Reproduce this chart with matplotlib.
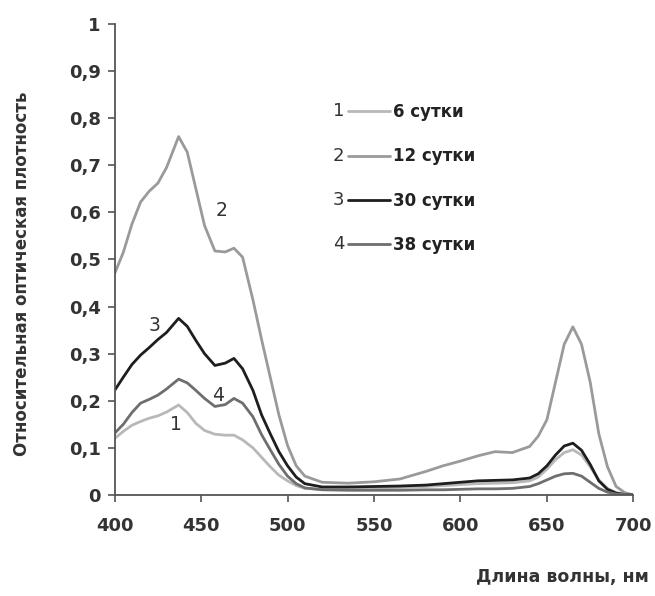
import matplotlib
matplotlib.use('Agg')
import matplotlib.pyplot as plt
from matplotlib.ticker import FuncFormatter

# wavelengths (nm) and relative optical density
wl = [400, 405, 410, 415, 420, 425, 430, 437, 442, 447, 452, 458, 464, 469, 474,
      480, 485, 490, 495, 500, 505, 510, 520, 535, 550, 565, 580, 590, 600, 610,
      620, 630, 640, 645, 650, 655, 660, 665, 670, 675, 680, 685, 690, 695, 700]

d6 = [0.120, 0.135, 0.148, 0.156, 0.163, 0.168, 0.176, 0.191, 0.175, 0.152, 0.137,
      0.129, 0.127, 0.127, 0.117, 0.100, 0.080, 0.060, 0.042, 0.030, 0.020, 0.014,
      0.012, 0.012, 0.014, 0.016, 0.018, 0.020, 0.022, 0.024, 0.025, 0.026, 0.030,
      0.038, 0.055, 0.075, 0.090, 0.096, 0.085, 0.060, 0.032, 0.014, 0.005, 0.002, 0.0]

d12 = [0.470, 0.515, 0.575, 0.622, 0.645, 0.662, 0.695, 0.761, 0.728, 0.650, 0.572,
       0.518, 0.516, 0.524, 0.505, 0.414, 0.330, 0.250, 0.170, 0.105, 0.062, 0.040,
       0.027, 0.025, 0.028, 0.034, 0.050, 0.062, 0.072, 0.083, 0.092, 0.090, 0.103,
       0.125, 0.160, 0.240, 0.320, 0.357, 0.320, 0.240, 0.130, 0.060, 0.018, 0.005, 0.0]

d30 = [0.222, 0.250, 0.277, 0.297, 0.313, 0.330, 0.345, 0.375, 0.358, 0.328, 0.300,
       0.275, 0.280, 0.290, 0.268, 0.222, 0.170, 0.130, 0.092, 0.062, 0.038, 0.024,
       0.017, 0.017, 0.018, 0.019, 0.021, 0.024, 0.027, 0.030, 0.031, 0.032, 0.036,
       0.045, 0.062, 0.085, 0.104, 0.110, 0.095, 0.065, 0.030, 0.012, 0.004, 0.001, 0.0]

d38 = [0.131, 0.150, 0.175, 0.195, 0.203, 0.212, 0.225, 0.246, 0.238, 0.222, 0.205,
       0.188, 0.192, 0.205, 0.195, 0.166, 0.128, 0.096, 0.065, 0.040, 0.024, 0.015,
       0.011, 0.010, 0.010, 0.010, 0.011, 0.011, 0.012, 0.013, 0.013, 0.014, 0.018,
       0.024, 0.032, 0.040, 0.045, 0.046, 0.040, 0.027, 0.014, 0.006, 0.002, 0.001, 0.0]

series = [d6, d12, d30, d38]
nums = ['1', '2', '3', '4']
labels = ['6 сутки', '12 сутки', '30 сутки', '38 сутки']
colors = ['#b8b8b8', '#9a9a9a', '#1e1e1e', '#6e6e6e']

fig = plt.figure(figsize=(6.55, 5.96), dpi=100)
ax = fig.add_axes([0.175, 0.1695, 0.792, 0.7902])

for y, lab, c in zip(series, labels, colors):
    ax.plot(wl, y, color=c, lw=2.0, label=lab, solid_capstyle='round')

ax.set_xlim(400, 700)
ax.set_ylim(0, 1)
ax.set_xticks(range(400, 701, 50))
ax.set_yticks([i / 10 for i in range(11)])
ax.yaxis.set_major_formatter(FuncFormatter(lambda v, p: ('%g' % round(v, 1)).replace('.', ',')))

for s in ['top', 'right']:
    ax.spines[s].set_visible(False)
for s in ['left', 'bottom']:
    ax.spines[s].set_color('#555555')
    ax.spines[s].set_linewidth(1.3)
ax.tick_params(axis='both', direction='out', length=5, width=1.2, color='#555555',
               labelsize=13, labelcolor='#333333')
ax.tick_params(axis='x', pad=11)
ax.tick_params(axis='y', pad=5)
for t in ax.get_xticklabels() + ax.get_yticklabels():
    t.set_fontweight('bold')

# curve numbers near the curves
ax.text(462, 0.605, '2', fontsize=13.5, color='#333333', ha='center', va='center')
ax.text(423, 0.36, '3', fontsize=13.5, color='#333333', ha='center', va='center')
ax.text(460, 0.212, '4', fontsize=13.5, color='#333333', ha='center', va='center')
ax.text(435.5, 0.149, '1', fontsize=13.5, color='#333333', ha='center', va='center')

leg = ax.legend(loc='upper left', bbox_to_anchor=(0.45, 0.832), frameon=False,
                borderpad=0, borderaxespad=0, handlelength=2.5, handletextpad=0.2,
                labelspacing=1.58, prop={'weight': 'bold', 'size': 12})
for t in leg.get_texts():
    t.set_color('#222222')

fig.canvas.draw()
r = fig.canvas.get_renderer()
for n, ln in zip(nums, leg.get_lines()):
    bb = ln.get_window_extent(r)
    ax.annotate(n, xy=(bb.x0 - 4, (bb.y0 + bb.y1) / 2), xycoords='figure pixels',
                ha='right', va='center', fontsize=13, color='#333333')

fig.text(0.034, 0.54, 'Относительная оптическая плотность', rotation=90,
         ha='center', va='center', fontsize=12, fontweight='bold', color='#333333')
fig.text(0.99, 0.032, 'Длина волны, нм', ha='right', va='center',
         fontsize=12.5, fontweight='bold', color='#333333')

fig.savefig('out.png', dpi=100)
